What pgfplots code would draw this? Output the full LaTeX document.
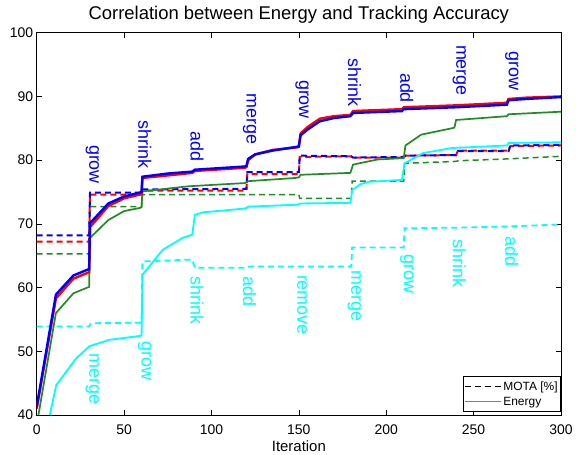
\documentclass[border=0pt]{standalone}
\usepackage{pgfplots}
\pgfplotsset{compat=1.18}
\usepackage{fontspec}
\setmainfont{Liberation Sans}
\definecolor{mgreen}{rgb}{0.13,0.55,0.13}
\definecolor{mcyan}{rgb}{0,1,1}
\definecolor{mblue}{rgb}{0,0,1}
\definecolor{mred}{rgb}{1,0,0}
\tikzset{lab/.style={rotate=-90, anchor=west, inner sep=0pt, font=\fontsize{18}{20}\selectfont}}
\begin{document}
\begin{tikzpicture}
\path[use as bounding box] (-36.7bp,-40bp) rectangle (539.3bp,415bp);
\begin{axis}[
    scale only axis,
    width=524.3bp,
    height=382.3bp,
    xmin=0, xmax=300,
    ymin=40, ymax=100,
    xtick={0,50,...,300},
    ytick={40,50,...,100},
    tick pos=both,
    tick align=inside,
    major tick length=5bp,
    axis line style={line width=0.9bp},
    tick style={line width=0.7bp, black},
    /pgf/number format/assume math mode=true,
    ticklabel style={font=\fontsize{14}{16}\selectfont},
    xticklabel style={inner sep=0pt, yshift=-10bp},
    yticklabel style={inner sep=0pt, xshift=-3.4bp},
    xlabel={Iteration},
    xlabel style={font=\fontsize{15}{17}\selectfont, inner sep=0pt, yshift=-5bp},
    title={Correlation between Energy and Tracking Accuracy},
    every axis title/.style={at={(0.5,1)}, anchor=south, inner sep=0pt, yshift=9bp, font=\fontsize{18.5}{20}\selectfont},
    legend style={at={(1,0)}, anchor=south east, yshift=3bp, draw=black, line width=0.8bp,
        font=\fontsize{12}{14}\selectfont, inner xsep=1bp, inner ysep=3bp, row sep=1bp},
    legend cell align=left,
    legend image code/.code={\draw[#1] (0bp,0bp) -- (36bp,0bp);},
]
\addlegendimage{black, line width=0.8bp, dash pattern=on 6bp off 4bp}
\addlegendimage{gray, line width=1.2bp}
\legend{MOTA [\%], Energy}

% MOTA (dashed)
\addplot[forget plot, mcyan, line width=1.8bp, dash pattern=on 6bp off 4bp] coordinates {
(0,53.9) (30,53.9) (31,54.4) (60,54.5) (60.5,64.1) (89,64.4) (90.5,63.1) (120,63.1) (121,63.3)
(150,63.3) (180,63.3) (180.5,66.3) (210,66.3) (210.5,69.3) (240,69.4) (270,69.6) (300,69.9)};
\addplot[forget plot, mgreen, line width=1.5bp, dash pattern=on 6bp off 4bp] coordinates {
(0,65.3) (30,65.3) (30.5,72.7) (60,72.7) (60.5,74.6) (150,74.6) (150.5,74.0) (180,74.0)
(180.5,76.7) (210,76.7) (210.5,79.5) (240,79.8) (241,79.9) (270,80.2) (300,80.6)};
\addplot[forget plot, mred, line width=2bp, dash pattern=on 6bp off 4bp] coordinates {
(0,67.2) (30,67.2) (30.5,74.6) (60,74.6) (60.5,75.2) (120,75.2) (120.5,77.8) (150,77.8)
(150.5,80.5) (180,80.6) (181,80.4) (210,80.4) (211,80.7) (240,80.8) (241,81.5) (270,81.5)
(271,82.2) (300,82.3)};
\addplot[forget plot, mblue, line width=2bp, dash pattern=on 6bp off 4bp] coordinates {
(0,68.2) (30,68.2) (30.5,74.9) (60,74.9) (60.5,75.4) (120,75.5) (120.5,78.1) (150,78.1)
(150.5,80.7) (180,80.6) (181,80.4) (210,80.5) (211,80.7) (240,80.8) (241,81.4) (270,81.4)
(271,82.3) (300,82.4)};

% Energy (solid)
\addplot[forget plot, mcyan, line width=1.8bp] coordinates {
(7.5,40.0) (11.2,44.7) (22.6,48.9) (30.2,50.8) (41.6,51.8) (58.8,52.4) (60,52.5) (60.5,62.0)
(62,62.5) (72,65.9) (83.5,67.8) (89,68.3) (90.5,71.4) (95,71.8) (119,72.4) (120,72.5)
(121,72.7) (149,73.0) (150,73.1) (151,73.2) (179.5,73.3) (180.5,75.3) (185,76.2) (190,76.6)
(209,76.9) (210.5,79.5) (221,81.1) (237.5,81.9) (269,82.3) (270,82.7) (300,82.8)};
\addplot[forget plot, mgreen, line width=1.7bp] coordinates {
(1,40.0) (11,56.0) (21,59.1) (29,60.0) (30,60.1) (30.5,67.8) (41,70.6) (50,72.0) (59,72.5)
(60,72.6) (60.5,75.1) (87,75.9) (119,76.4) (120,76.5) (121,76.7) (148,77.2) (150,77.3)
(151,77.7) (179.5,78.0) (181,79.3) (195,80.1) (209,80.3) (210,80.3) (211,82.3) (220,84.0)
(237.5,85.0) (239,85.1) (240,86.3) (269,86.9) (270,87.2) (300,87.6)};
\addplot[forget plot, mred, line width=2.4bp] coordinates {
(0,41.0) (11,58.3) (21,61.4) (29,62.3) (30,62.4) (30.5,69.5) (41,72.8) (50,74.0) (59,74.6)
(60,74.7) (60.5,77.2) (75,77.6) (89,78.0) (90.5,78.3) (119,78.8) (120,78.9) (121,80.0)
(125,80.9) (135,81.6) (149,82.0) (150,82.1) (151,84.2) (155,85.2) (162,86.5) (170,86.9)
(179.5,87.1) (181,87.7) (190,87.8) (209,88.0) (210,88.3) (240,88.6) (269,89.0) (270,89.6)
(280,89.8) (300,90.0)};
\addplot[forget plot, mblue, line width=2.4bp] coordinates {
(0,41.3) (11,58.9) (21,61.9) (29,62.8) (30,62.9) (30.5,70.1) (41,73.2) (50,74.3) (59,74.9)
(60,75.0) (60.5,77.4) (75,77.9) (89,78.2) (90.5,78.5) (119,79.0) (120,79.1) (121,80.2)
(125,80.9) (135,81.5) (149,82.1) (150,82.2) (151,83.9) (155,84.8) (162,86.1) (170,86.6)
(179.5,86.9) (181,87.4) (190,87.5) (209,87.7) (210,88.0) (240,88.3) (269,88.7) (270,89.4)
(280,89.6) (300,89.9)};

% event labels
\node[lab, mblue] at (axis cs:31.8,82.4) {grow};
\node[lab, mblue] at (axis cs:61.8,86.3) {shrink};
\node[lab, mblue] at (axis cs:91.8,84.5) {add};
\node[lab, mblue] at (axis cs:121.8,90.5) {merge};
\node[lab, mblue] at (axis cs:151.8,92.6) {grow};
\node[lab, mblue] at (axis cs:181.8,96.0) {shrink};
\node[lab, mblue] at (axis cs:211.8,93.7) {add};
\node[lab, mblue] at (axis cs:241.8,98.1) {merge};
\node[lab, mblue] at (axis cs:271.8,97.1) {grow};
\node[lab, mcyan] at (axis cs:31.8,49.7) {merge};
\node[lab, mcyan] at (axis cs:61.8,51.5) {grow};
\node[lab, mcyan] at (axis cs:91.8,61.7) {shrink};
\node[lab, mcyan] at (axis cs:121.8,61.7) {add};
\node[lab, mcyan] at (axis cs:151.8,62.0) {remove};
\node[lab, mcyan] at (axis cs:181.8,62.7) {merge};
\node[lab, mcyan] at (axis cs:211.8,65.2) {grow};
\node[lab, mcyan] at (axis cs:241.8,67.5) {shrink};
\node[lab, mcyan] at (axis cs:271.8,68.0) {add};
\end{axis}
\end{tikzpicture}
\end{document}
